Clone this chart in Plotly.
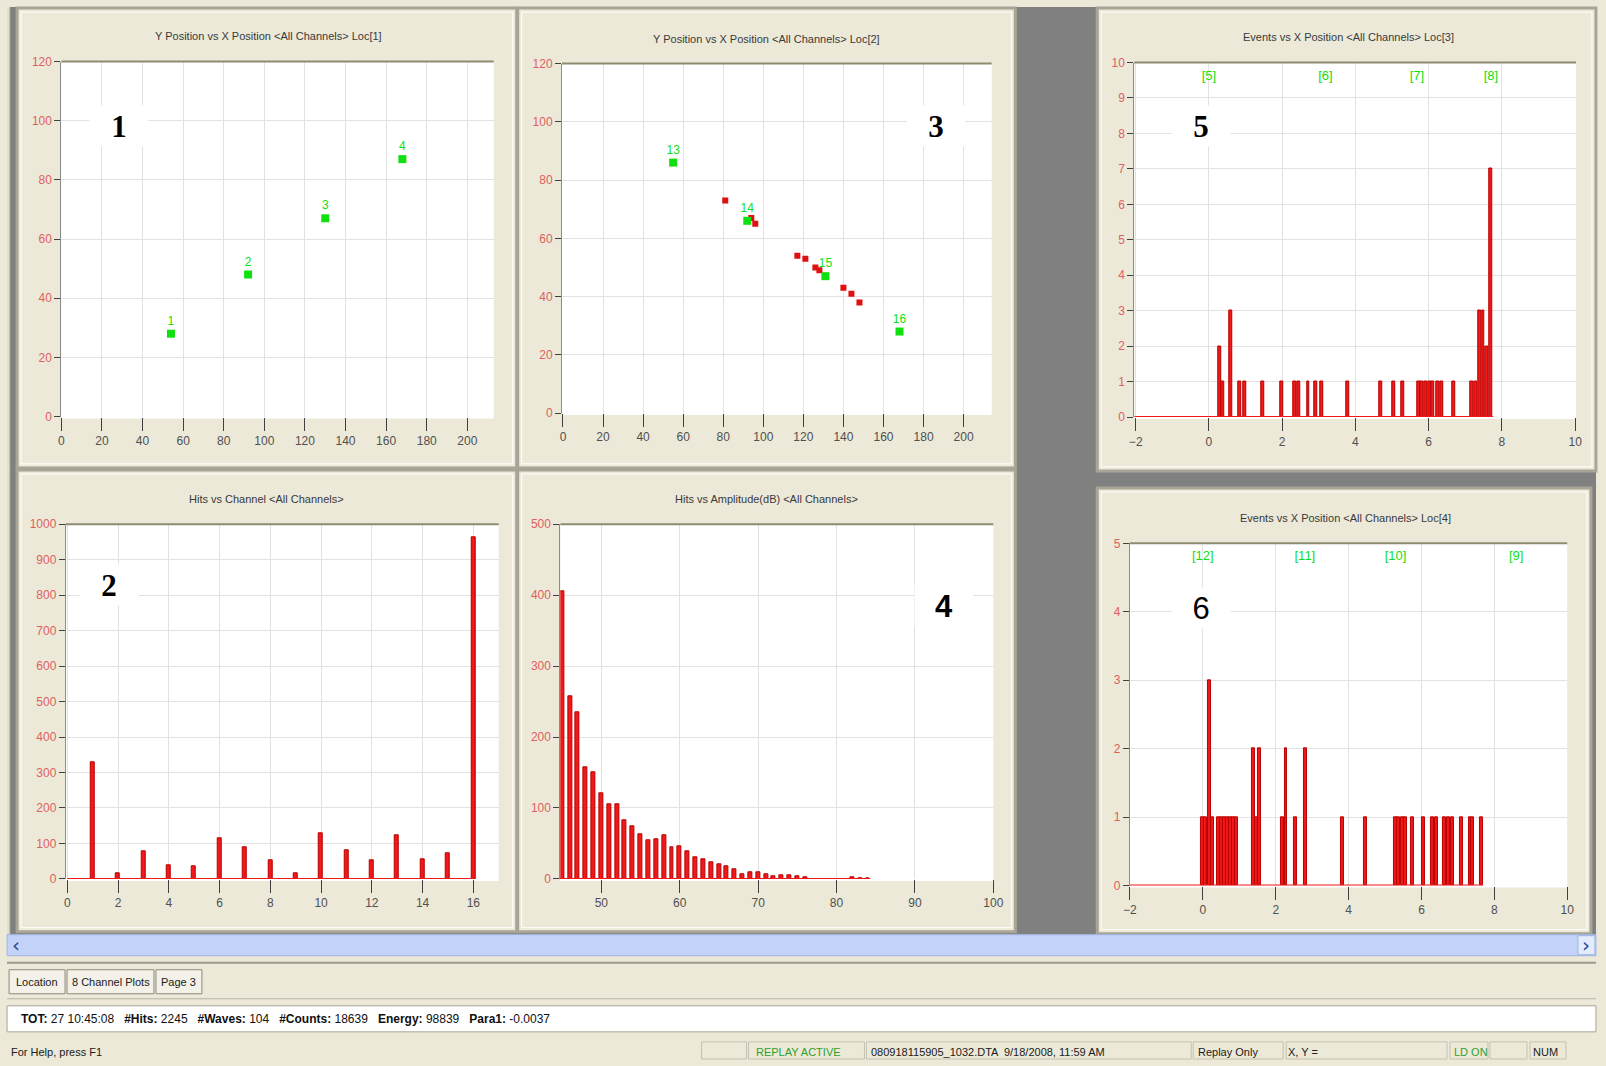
import plotly.graph_objects as go

W, H = 1606, 1066
# The page around the figure carries an 8px body margin and is then fitted back
# into the window, so window positions are converted to figure pixels first.
MARGIN = 8
SX = W / (W + 2 * MARGIN)
SY = H / (H + 2 * MARGIN)

# ---------------- data ----------------
# Loc[1]: sensor positions (channels 1-4)
loc1_x = [54, 92, 130, 168]
loc1_y = [28, 48, 67, 87]
loc1_ch = ["1", "2", "3", "4"]

# Loc[2]: sensor positions (channels 13-16) and located events
loc2_x = [55, 92, 131, 168]
loc2_y = [86, 66, 47, 28]
loc2_ch = ["13", "14", "15", "16"]
loc2_event_x = [81, 94, 96, 117, 121, 126, 128, 140, 144, 148]
loc2_event_y = [73, 67, 65, 54, 53, 50, 49, 43, 41, 38]

# Loc[3]: linear location histogram
loc3_x = [0.30, 0.38, 0.60, 0.84, 0.97, 1.46, 2.00, 2.33, 2.46, 2.71, 2.92, 3.07,
          3.80, 4.70, 5.05, 5.28, 5.72, 5.82, 5.92, 6.02, 6.11, 6.25, 6.36, 6.69,
          7.18, 7.28, 7.40, 7.49, 7.58, 7.70]
loc3_events = [2, 1, 3, 1, 1, 1, 1, 1, 1, 1, 1, 1,
               1, 1, 1, 1, 1, 1, 1, 1, 1, 1, 1, 1,
               1, 1, 3, 3, 2, 7]
loc3_sensor_x = [0.0, 3.18, 5.68, 7.70]
loc3_sensor_lbl = ["[5]", "[6]", "[7]", "[8]"]

# Loc[4]: linear location histogram
loc4_x = [0.00, 0.08, 0.19, 0.26, 0.43, 0.51, 0.59, 0.67, 0.75, 0.83, 0.91,
          1.38, 1.46, 1.56, 2.18, 2.28, 2.53, 2.82, 3.84, 4.45,
          5.28, 5.38, 5.48, 5.56, 5.76, 6.06, 6.29, 6.40, 6.62, 6.73, 6.84,
          7.09, 7.33, 7.40, 7.65]
loc4_events = [1, 1, 3, 1, 1, 1, 1, 1, 1, 1, 1,
               2, 1, 2, 1, 2, 1, 2, 1, 1,
               1, 1, 1, 1, 1, 1, 1, 1, 1, 1, 1,
               1, 1, 1, 1]
loc4_sensor_x = [0.0, 2.8, 5.29, 8.6]
loc4_sensor_lbl = ["[12]", "[11]", "[10]", "[9]"]

# Hits per channel
channels = list(range(1, 17))
channel_hits = [330, 16, 77, 37, 35, 115, 89, 52, 17, 129, 82, 52, 124, 56, 72, 962]

# Hits per amplitude bin (dB)
amp_db = list(range(45, 77)) + [82, 83, 84]
amp_hits = [405, 257, 235, 157, 151, 121, 105, 105, 82, 74, 63, 54, 56, 61, 45, 46,
            39, 30, 28, 23, 20, 18, 13, 6, 9, 10, 7, 3, 5, 5, 3, 2, 2, 1, 1]

# ---------------- styling ----------------
SANS = "Liberation Sans, Arial, sans-serif"
BEIGE = "#ECE9D8"
DARKGRAY = "#808080"
RED = "#F01818"
RED_EDGE = "#B80000"
GREEN = "#10E010"
YLAB = "#E06060"
XLAB = "#505050"


def px(x):
    f = x / SX - MARGIN
    return min(max(f, 0), W) / W


def py(y):
    f = y / SY - MARGIN
    return 1 - min(max(f, 0), H) / H


def text(t, x, y, size=12, color="#202020", family=SANS, anchor="center", **kw):
    d = dict(text=t, x=px(x), y=py(y), xref="paper", yref="paper", xanchor=anchor,
             yanchor="middle", showarrow=False, font=dict(family=family, size=size, color=color))
    d.update(kw)
    return d


def rect(l, t, r, b, fill, line=None, width=0, layer="above"):
    return dict(type="rect", xref="paper", yref="paper", x0=px(l), x1=px(r), y0=py(b), y1=py(t),
                fillcolor=fill, line=dict(color=line or "rgba(0,0,0,0)", width=width), layer=layer)


def hline(x0, x1, y, color, width):
    return dict(type="line", xref="paper", yref="paper", x0=px(x0), x1=px(x1), y0=py(y), y1=py(y),
                line=dict(color=color, width=width))


fig = go.Figure()
shapes = []
annotations = []

# dark background behind the chart panels
shapes.append(rect(0, 0, 1606, 934, DARKGRAY, layer="below"))
shapes.append(rect(0, 8, 11, 934, "#E4E0D0", layer="below"))
shapes.append(dict(type="line", xref="paper", yref="paper", x0=px(11), x1=px(11), y0=py(934), y1=py(8),
                   line=dict(color="#9C9A8C", width=1), layer="below"))

# panel frames (left, top, right, bottom in window pixels)
panels = [
    (18, 9, 518, 468),
    (519, 9, 1017, 468),
    (1099, 9, 1598, 471),
    (18, 470, 518, 931),
    (519, 470, 1017, 931),
    (1099, 488, 1593, 933),
]
for (l, t, r, b) in panels:
    shapes.append(rect(l, t, r, b, BEIGE, "#A8A496", 3, layer="below"))
    shapes.append(rect(l + 4, t + 4, r - 4, b - 4, "rgba(0,0,0,0)", "#FFFFFF", 1, layer="below"))

# plot areas: (left, top, right, bottom, xrange, yrange, xdtick, ydtick)
areas = {
    "": (62.3, 62.3, 495, 416.7, [0, 213], [0, 120], 20, 20),
    "2": (563.3, 64.3, 993.3, 413.3, [-0.5, 214], [0, 120], 20, 20),
    "3": (1136, 63.3, 1578, 417.3, [-2.04, 10.02], [0, 10], 2, 1),
    "4": (66.7, 524.3, 500, 878.3, [-0.06, 17.0], [0, 1000], 2, 100),
    "5": (561.7, 524.3, 995, 878.3, [44.78, 100.0], [0, 500], 10, 100),
    "6": (1131.7, 543.3, 1569.3, 885, [-2.0, 10.0], [0, 5], 2, 1),
}

layout_axes = {}
for suf, (l, t, r, b, xr, yr, xd, yd) in areas.items():
    # white plotting surface
    shapes.append(rect(l, t, r, b + 2, "#FFFFFF", layer="below"))
    layout_axes["xaxis" + suf] = dict(
        domain=[px(l), px(r)], range=xr, anchor="y" + suf, dtick=xd,
        tick0=0, showgrid=True, gridcolor="#E2E2E2", gridwidth=1, zeroline=False,
        showline=False, ticks="outside", ticklen=13, tickwidth=1, tickcolor="#404040",
        tickfont=dict(family=SANS, size=12, color=XLAB), fixedrange=True,
    )
    layout_axes["yaxis" + suf] = dict(
        domain=[py(b), py(t)], range=yr, anchor="x" + suf, dtick=yd, tick0=0,
        showgrid=True, gridcolor="#E2E2E2", gridwidth=1, zeroline=False,
        showline=True, linecolor="#8C8C8C", linewidth=1,
        ticks="outside", ticklen=6, tickwidth=1, tickcolor="#404040",
        tickfont=dict(family=SANS, size=12, color=YLAB), fixedrange=True,
    )
    # darker top border of the plot area
    shapes.append(dict(type="line", xref=("x" + suf) + " domain", yref=("y" + suf) + " domain",
                       x0=0, x1=1, y0=1, y1=1, line=dict(color="#8E8C70", width=2)))

# ---- Loc[1] ----
fig.add_trace(go.Scatter(x=loc1_x, y=loc1_y, mode="markers+text", text=loc1_ch,
                         textposition="top center",
                         textfont=dict(family=SANS, size=12, color=GREEN),
                         marker=dict(symbol="square", size=8, color=GREEN),
                         xaxis="x", yaxis="y", showlegend=False, cliponaxis=False))

# ---- Loc[2] ----
fig.add_trace(go.Scatter(x=loc2_event_x, y=loc2_event_y, mode="markers",
                         marker=dict(symbol="square", size=6, color="#E01010"),
                         xaxis="x2", yaxis="y2", showlegend=False))
fig.add_trace(go.Scatter(x=loc2_x, y=loc2_y, mode="markers+text", text=loc2_ch,
                         textposition="top center",
                         textfont=dict(family=SANS, size=12, color=GREEN),
                         marker=dict(symbol="square", size=8, color=GREEN),
                         xaxis="x2", yaxis="y2", showlegend=False, cliponaxis=False))

# ---- Loc[3] ----
fig.add_trace(go.Scatter(x=[-2.04, 7.76], y=[0, 0], mode="lines", line=dict(color=RED, width=2),
                         xaxis="x3", yaxis="y3", showlegend=False, cliponaxis=False))
fig.add_trace(go.Bar(x=loc3_x, y=loc3_events, width=0.08,
                     marker=dict(color=RED, line=dict(color=RED_EDGE, width=1)),
                     xaxis="x3", yaxis="y3", showlegend=False))
fig.add_trace(go.Scatter(x=loc3_sensor_x, y=[9.6] * len(loc3_sensor_x), mode="text",
                         text=loc3_sensor_lbl, textposition="middle center",
                         textfont=dict(family=SANS, size=13, color=GREEN),
                         xaxis="x3", yaxis="y3", showlegend=False))

# ---- Hits vs Channel ----
fig.add_trace(go.Scatter(x=[0, 16], y=[0, 0], mode="lines", line=dict(color=RED, width=2),
                         xaxis="x4", yaxis="y4", showlegend=False, cliponaxis=False))
fig.add_trace(go.Bar(x=channels, y=channel_hits, width=0.16,
                     marker=dict(color=RED, line=dict(color=RED_EDGE, width=1)),
                     xaxis="x4", yaxis="y4", showlegend=False))

# ---- Hits vs Amplitude ----
fig.add_trace(go.Scatter(x=[44.78, 84.3], y=[0, 0], mode="lines", line=dict(color=RED, width=2),
                         xaxis="x5", yaxis="y5", showlegend=False, cliponaxis=False))
fig.add_trace(go.Bar(x=amp_db, y=amp_hits, width=0.5,
                     marker=dict(color=RED, line=dict(color=RED_EDGE, width=1)),
                     xaxis="x5", yaxis="y5", showlegend=False))

# ---- Loc[4] ----
fig.add_trace(go.Scatter(x=[-2.0, 7.69], y=[0, 0], mode="lines", line=dict(color=RED, width=2),
                         xaxis="x6", yaxis="y6", showlegend=False, cliponaxis=False))
fig.add_trace(go.Bar(x=loc4_x, y=loc4_events, width=0.08,
                     marker=dict(color=RED, line=dict(color=RED_EDGE, width=1)),
                     xaxis="x6", yaxis="y6", showlegend=False))
fig.add_trace(go.Scatter(x=loc4_sensor_x, y=[4.8] * len(loc4_sensor_x), mode="text",
                         text=loc4_sensor_lbl, textposition="middle center",
                         textfont=dict(family=SANS, size=13, color=GREEN),
                         xaxis="x6", yaxis="y6", showlegend=False))

# panel titles
titles = [
    ("Y Position vs X Position <All Channels> Loc[1]", 270, 37),
    ("Y Position vs X Position <All Channels> Loc[2]", 768, 40),
    ("Events vs X Position <All Channels> Loc[3]", 1350, 38),
    ("Hits vs Channel <All Channels>", 268, 499),
    ("Hits vs Amplitude(dB) <All Channels>", 768, 499),
    ("Events vs X Position <All Channels> Loc[4]", 1347, 518),
]
for txt, x, y in titles:
    annotations.append(text(txt.replace("<", "&lt;").replace(">", "&gt;"), x, y,
                            size=11, color="#3A3A3A"))

# large panel numbers on white boxes
numbers = [
    ("1", 120, 127, "Liberation Serif, serif", True),
    ("3", 938, 127, "Liberation Serif, serif", True),
    ("5", 1203, 127, "Liberation Serif, serif", True),
    ("2", 110, 585, "Liberation Serif, serif", True),
    ("4", 946, 606, "Liberation Sans, Arial, sans-serif", True),
    ("6", 1203, 608, "Liberation Sans, Arial, sans-serif", False),
]
for txt, x, y, fam, bold in numbers:
    annotations.append(text("<b>%s</b>" % txt if bold else txt, x, y, size=31, color="#000000",
                            family=fam, bgcolor="#FFFFFF", width=56, height=38))

# ---- lower window chrome ----
# horizontal scroll bar
shapes.append(rect(8, 934, 1598, 955, "#C3D2F8", "#9FB4E6", 1))
shapes.append(rect(1580, 935, 1597, 954, "#E4ECFC", "#9FB4E6", 1))
shapes.append(rect(1599, 0, 1606, 955, "#D4DEF6"))
annotations.append(text("‹", 17, 944, size=20, color="#2B4C9A", family="DejaVu Sans"))
annotations.append(text("›", 1588, 944, size=20, color="#2B4C9A", family="DejaVu Sans"))

# beige lower area
shapes.append(rect(0, 955, 1606, 1066, BEIGE, layer="below"))
shapes.append(hline(0, 1606, 962, "#9C9A8C", 2))
shapes.append(hline(0, 1606, 998, "#B8B5A6", 1))

# tabs
tabs = [("Location", 10, 66), ("8 Channel Plots", 68, 155), ("Page 3", 157, 203)]
for name, l, r in tabs:
    shapes.append(rect(l, 969, r, 993, "#F4F2E8", "#8C8A7C", 1))
    annotations.append(text(name, (l + r) / 2, 981, size=11, color="#202020"))

# statistics line
shapes.append(rect(8, 1005, 1598, 1031, "#FFFFFF", "#A8A596", 1))
total_hits = sum(channel_hits)
stats = ("<b>TOT:</b> 27 10:45:08   <b>#Hits:</b> %d   <b>#Waves:</b> 104   <b>#Counts:</b> 18639   "
         "<b>Energy:</b> 98839   <b>Para1:</b> -0.0037" % total_hits)
annotations.append(text(stats, 20, 1018, size=12, color="#101010", anchor="left"))

# status bar
panes = [(703, 748), (750, 866), (868, 1193), (1195, 1285), (1288, 1449), (1452, 1490),
         (1492, 1529), (1532, 1568)]
for l, r in panes:
    shapes.append(rect(l, 1041, r, 1060, "rgba(0,0,0,0)", "#C4C1B2", 1))
status = [
    ("For Help, press F1", 10, "#202020"),
    ("REPLAY ACTIVE", 755, "#2EA02E"),
    ("080918115905_1032.DTA  9/18/2008, 11:59 AM", 871, "#202020"),
    ("Replay Only", 1198, "#202020"),
    ("X, Y =", 1288, "#202020"),
    ("LD ON", 1454, "#2EA02E"),
    ("NUM", 1533, "#202020"),
]
for txt, x, c in status:
    annotations.append(text(txt, x, 1051, size=11, color=c, anchor="left"))
shapes.append(rect(0, 1063, 1606, 1066, "#2F62C8"))

fig.update_layout(
    width=W, height=H, margin=dict(l=0, r=0, t=0, b=0),
    paper_bgcolor=BEIGE, plot_bgcolor="rgba(0,0,0,0)",
    shapes=shapes, annotations=annotations, bargap=0, barmode="overlay",
    font=dict(family=SANS), **layout_axes,
)

fig.write_html("out.html", config={"displayModeBar": False})
